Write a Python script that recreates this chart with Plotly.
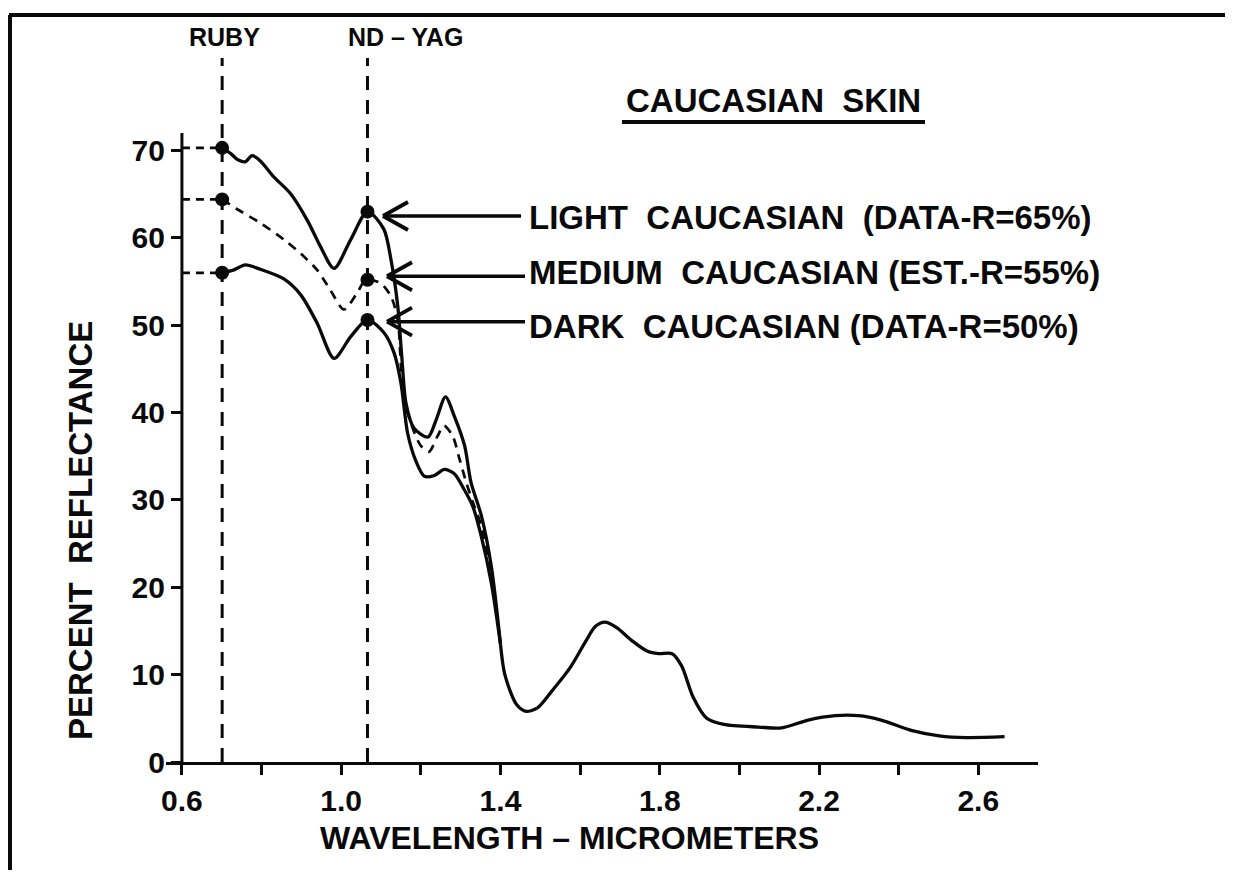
import plotly.graph_objects as go

# ---------------- data ----------------
ruby_x = 0.701          # ruby laser wavelength line (micrometers)
ndyag_x = 1.066         # Nd-YAG laser wavelength line

light_x = [0.701, 0.721, 0.742, 0.759, 0.776, 0.797, 0.830, 0.872, 0.915, 0.948, 0.982,
           1.024, 1.066, 1.107, 1.125, 1.142, 1.152, 1.163, 1.183, 1.218, 1.238, 1.262,
           1.284, 1.310, 1.326, 1.352, 1.377, 1.400]
light_y = [70.3, 69.7, 68.9, 68.7, 69.4, 68.8, 67.0, 65.1, 62.0, 59.0, 56.5,
           59.8, 63.0, 61.0, 57.5, 52.2, 46.5, 41.0, 38.2, 37.2, 39.1, 41.8,
           39.6, 36.2, 32.0, 28.2, 22.4, 13.5]

medium_x = [0.701, 0.738, 0.797, 0.856, 0.898, 0.940, 0.973, 1.007, 1.040, 1.062, 1.099,
            1.125, 1.142, 1.150, 1.157, 1.183, 1.200, 1.220, 1.242, 1.258, 1.280, 1.297,
            1.314, 1.334, 1.352, 1.377, 1.400]
medium_y = [64.4, 63.3, 61.7, 59.8, 58.2, 56.3, 54.0, 51.8, 53.7, 55.2, 54.8,
            53.3, 50.6, 45.4, 41.6, 37.8, 36.2, 35.5, 37.3, 38.5, 37.3, 34.7,
            32.0, 29.3, 27.0, 21.3, 13.5]

dark_x = [0.701, 0.729, 0.759, 0.797, 0.856, 0.898, 0.940, 0.982, 1.024, 1.066, 1.108,
          1.133, 1.150, 1.167, 1.188, 1.209, 1.234, 1.259, 1.284, 1.310, 1.331, 1.352,
          1.377, 1.400]
dark_y = [56.0, 56.3, 56.9, 56.4, 55.3, 53.5, 50.2, 46.2, 48.7, 50.6, 49.1,
          46.8, 43.4, 37.6, 34.4, 32.7, 32.8, 33.5, 33.0, 31.1, 29.2, 25.8,
          20.5, 13.5]

tail_x = [1.400, 1.411, 1.440, 1.464, 1.493, 1.527, 1.575, 1.614, 1.638, 1.662, 1.691,
          1.730, 1.768, 1.797, 1.831, 1.855, 1.884, 1.918, 1.961, 2.048, 2.106, 2.173,
          2.241, 2.299, 2.356, 2.434, 2.502, 2.570, 2.666]
tail_y = [13.5, 10.0, 6.6, 5.8, 6.2, 8.0, 10.8, 13.8, 15.5, 16.0, 15.4,
          13.9, 12.7, 12.4, 12.4, 11.0, 7.4, 5.0, 4.3, 4.0, 3.9, 4.8,
          5.3, 5.3, 4.8, 3.6, 3.0, 2.8, 2.9]

ruby_vals = [70.3, 64.4, 56.0]     # light, medium, dark at ruby
ndyag_vals = [63.0, 55.2, 50.6]    # light, medium, dark at Nd-YAG

y_ticks = [0, 10, 20, 30, 40, 50, 60, 70]
x_ticks = [0.6, 1.0, 1.4, 1.8, 2.2, 2.6]
x_ticktext = ["0.6", "1.0", "1.4", "1.8", "2.2", "2.6"]

labels = ["LIGHT  CAUCASIAN  (DATA-R=65%)",
          "MEDIUM  CAUCASIAN (EST.-R=55%)",
          "DARK  CAUCASIAN (DATA-R=50%)"]
arrow_tips_x = [1.105, 1.115, 1.115]
arrow_tips_y = [62.5, 55.6, 50.4]

# ---------------- layout geometry ----------------
# the page body keeps an 8px margin, so the figure is drawn 8px smaller
OFF = 8
W, H = 1233 - 2 * OFF, 878 - 2 * OFF
L, T = 166 - OFF, 133 - OFF
PW, PH = 872, 629
R, B = W - L - PW, H - T - PH
X0, X1 = 0.56, 2.75
Y0, Y1 = 0, 72
FONT = "Liberation Sans, Arial, sans-serif"
BLACK = "#0a0a0a"


def fx(px):
    """reference-image x pixel -> paper coordinate"""
    return (px - OFF - L) / PW


def fy(py):
    """reference-image y pixel -> paper coordinate"""
    return (H - B - (py - OFF)) / PH


def dx(v):
    return (v - X0) / (X1 - X0)


fig = go.Figure()

line_style = dict(color=BLACK, width=3.3, shape="spline", smoothing=0.8)

fig.add_trace(go.Scatter(x=light_x, y=light_y, mode="lines", line=line_style))
fig.add_trace(go.Scatter(x=medium_x, y=medium_y, mode="lines",
                         line=dict(line_style, dash="9px,7px", width=2.7)))
fig.add_trace(go.Scatter(x=dark_x, y=dark_y, mode="lines", line=line_style))
fig.add_trace(go.Scatter(x=tail_x, y=tail_y, mode="lines", line=line_style))

# horizontal dashed leaders from the y axis to ruby points
for v in ruby_vals:
    fig.add_trace(go.Scatter(x=[0.6, ruby_x], y=[v, v], mode="lines",
                             line=dict(color=BLACK, width=2.7, dash="8px,6px")))

# data dots
fig.add_trace(go.Scatter(x=[ruby_x] * 3, y=ruby_vals, mode="markers",
                         marker=dict(color=BLACK, size=14)))
fig.add_trace(go.Scatter(x=[ndyag_x] * 3, y=ndyag_vals, mode="markers",
                         marker=dict(color=BLACK, size=14)))

shapes = []
# vertical dashed laser lines (extend above the plot area)
for xv in (ruby_x, ndyag_x):
    shapes.append(dict(type="line", xref="paper", yref="paper",
                       x0=dx(xv), x1=dx(xv), y0=0, y1=fy(58),
                       line=dict(color=BLACK, width=3, dash="14px,10px")))
# y axis line (0..72)
shapes.append(dict(type="line", xref="paper", yref="paper",
                   x0=dx(0.6), x1=dx(0.6), y0=0, y1=1,
                   line=dict(color=BLACK, width=3)))
# arrows
for tx, ty in zip(arrow_tips_x, arrow_tips_y):
    shapes.append(dict(type="line", xref="x", yref="y",
                       xsizemode="pixel", ysizemode="pixel",
                       xanchor=tx, yanchor=ty, x0=1, x1=138, y0=0, y1=0,
                       line=dict(color=BLACK, width=3.6)))
    for s in (1, -1):
        shapes.append(dict(type="line", xref="x", yref="y",
                           xsizemode="pixel", ysizemode="pixel",
                           xanchor=tx, yanchor=ty, x0=0, x1=25, y0=0, y1=14 * s,
                           line=dict(color=BLACK, width=3.8)))
# underline of the title
shapes.append(dict(type="line", xref="paper", yref="paper",
                   x0=fx(622), x1=fx(925), y0=fy(122), y1=fy(122),
                   line=dict(color=BLACK, width=4)))
# page frame (top and left edges)
shapes.append(dict(type="line", xref="paper", yref="paper",
                   x0=fx(9), x1=fx(1240), y0=fy(15), y1=fy(15),
                   line=dict(color=BLACK, width=4)))
shapes.append(dict(type="line", xref="paper", yref="paper",
                   x0=fx(10), x1=fx(10), y0=fy(15), y1=fy(890),
                   line=dict(color=BLACK, width=4)))

ann_font = dict(family=FONT, size=33, color=BLACK, weight="bold")
annotations = [
    dict(text="RUBY", x=fx(224), y=fy(37), xref="paper", yref="paper",
         showarrow=False, xanchor="center", yanchor="middle",
         font=dict(ann_font, size=25)),
    dict(text="ND – YAG", x=fx(405), y=fy(37), xref="paper", yref="paper",
         showarrow=False, xanchor="center", yanchor="middle",
         font=dict(ann_font, size=25)),
    dict(text="CAUCASIAN  SKIN", x=fx(773), y=fy(100), xref="paper", yref="paper",
         showarrow=False, xanchor="center", yanchor="middle",
         font=dict(ann_font, size=33)),
    dict(text="PERCENT  REFLECTANCE", x=fx(80), y=fy(531), xref="paper", yref="paper",
         showarrow=False, xanchor="center", yanchor="middle", textangle=-90,
         font=dict(ann_font, size=33)),
    dict(text="WAVELENGTH – MICROMETERS", x=fx(569), y=fy(838), xref="paper",
         yref="paper", showarrow=False, xanchor="center", yanchor="middle",
         font=dict(ann_font, size=32)),
]
for lab, py in zip(labels, (218, 272, 326)):
    annotations.append(dict(text=lab, x=fx(527), y=fy(py), xref="paper", yref="paper",
                            showarrow=False, xanchor="left", yanchor="middle",
                            font=ann_font))

tick_font = dict(family=FONT, size=30, color=BLACK, weight="bold")

fig.update_layout(
    width=W, height=H,
    margin=dict(l=L, r=R, t=T, b=B, pad=0),
    paper_bgcolor="white", plot_bgcolor="white",
    showlegend=False,
    shapes=shapes,
    annotations=annotations,
    xaxis=dict(range=[X0, X1], showgrid=False, zeroline=False,
               showline=True, linecolor=BLACK, linewidth=3,
               tickmode="array", tickvals=x_ticks, ticktext=x_ticktext,
               ticks="outside", ticklen=10, tickwidth=3, tickcolor=BLACK,
               tickfont=tick_font,
               minor=dict(tickmode="linear", tick0=0.6, dtick=0.2, ticks="outside",
                          ticklen=10, tickwidth=3, tickcolor=BLACK, showgrid=False)),
    yaxis=dict(range=[Y0, Y1], showgrid=False, zeroline=False, showline=False,
               anchor="free", position=dx(0.6),
               tickmode="array", tickvals=y_ticks,
               ticks="outside", ticklen=11, tickwidth=3, tickcolor=BLACK,
               tickfont=tick_font),
)

fig.write_html("out.html")
